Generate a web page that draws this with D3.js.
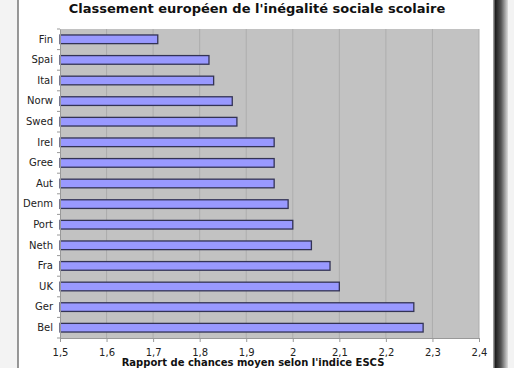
<!DOCTYPE html>
<html><head><meta charset="utf-8">
<script src="https://cdn.jsdelivr.net/npm/d3@7"></script>
<style>html,body{margin:0;padding:0;background:#f4f4f4;}svg{display:block;}</style>
</head><body>
<script>
const categories = ["Fin","Spai","Ital","Norw","Swed","Irel","Gree","Aut","Denm","Port","Neth","Fra","UK","Ger","Bel"];
const values = [1.71,1.82,1.83,1.87,1.88,1.96,1.96,1.96,1.99,2.0,2.04,2.08,2.10,2.26,2.28];
const xTicks = [1.5,1.6,1.7,1.8,1.9,2.0,2.1,2.2,2.3,2.4];
const title = "Classement européen de l'inégalité sociale scolaire";
const xTitle = "Rapport de chances moyen selon l'indice ESCS";

const W = 514, H = 368;
const svg = d3.select("body").append("svg").attr("width", W).attr("height", H);
const font = "Verdana, 'DejaVu Sans', sans-serif";

svg.append("rect").attr("width", W).attr("height", H).attr("fill", "#f3f3f3");
const grad = svg.append("defs").append("linearGradient").attr("id","sh").attr("x1","0").attr("x2","1");
grad.append("stop").attr("offset","0").attr("stop-color","#111");
grad.append("stop").attr("offset","0.5").attr("stop-color","#555");
grad.append("stop").attr("offset","1").attr("stop-color","#ddd");
svg.append("rect").attr("x", 494).attr("y", 0).attr("width", 14).attr("height", H).attr("fill", "url(#sh)");
svg.append("rect").attr("x", 18).attr("y", -2).attr("width", 476).attr("height", H + 4)
  .attr("fill", "#fff").attr("stroke", "#777").attr("stroke-width", 1.5);

const m = {left: 60, right: 479, top: 29, bottom: 338};
const x = d3.scaleLinear().domain([1.5, 2.4]).range([m.left, m.right]);
const y = d3.scaleBand().domain(categories).range([m.top, m.bottom]).paddingInner(0.58).paddingOuter(0.29);

svg.append("rect").attr("x", m.left).attr("y", m.top).attr("width", m.right - m.left).attr("height", m.bottom - m.top)
  .attr("fill", "#c2c2c2");

svg.append("g").selectAll("line").data(xTicks.slice(1)).join("line")
  .attr("x1", d => x(d)).attr("x2", d => x(d)).attr("y1", m.top).attr("y2", m.bottom)
  .attr("stroke", "#adadad").attr("stroke-width", 1);

svg.append("g").selectAll("rect").data(categories).join("rect")
  .attr("x", x(1.5)).attr("y", d => y(d))
  .attr("width", (d, i) => x(values[i]) - x(1.5)).attr("height", y.bandwidth())
  .attr("fill", "#9999ff").attr("stroke", "#333355").attr("stroke-width", 1.3);

const xAxis = d3.axisBottom(x).tickValues(xTicks).tickSize(4)
  .tickFormat(d => d3.format(".1f")(d).replace(/\.0$/, "").replace(".", ","));
const gx = svg.append("g").attr("transform", `translate(0,${m.bottom})`).call(xAxis);
gx.select(".domain").attr("stroke", "#999");
gx.selectAll(".tick line").attr("stroke", "#999");
gx.selectAll("text").attr("font-family", font).attr("font-size", 10).attr("fill", "#222").attr("dy", "1.1em");

const yAxis = d3.axisLeft(y).tickSize(0).tickPadding(7);
const gy = svg.append("g").attr("transform", `translate(${m.left},0)`).call(yAxis);
gy.select(".domain").attr("stroke", "#999");
gy.selectAll("text").attr("font-family", font).attr("font-size", 10).attr("fill", "#222");
svg.append("g").selectAll("line").data(d3.range(categories.length + 1)).join("line")
  .attr("x1", m.left - 3).attr("x2", m.left)
  .attr("y1", i => m.top + i * (m.bottom - m.top) / categories.length)
  .attr("y2", i => m.top + i * (m.bottom - m.top) / categories.length)
  .attr("stroke", "#999");

svg.append("text").attr("x", 257).attr("y", 13).attr("text-anchor", "middle")
  .attr("font-family", font).attr("font-weight", "bold").attr("font-size", 13).attr("fill", "#111").text(title);
svg.append("text").attr("x", 253).attr("y", 366).attr("text-anchor", "middle")
  .attr("font-family", font).attr("font-weight", "bold").attr("font-size", 10).attr("fill", "#111").text(xTitle);
</script>
</body></html>
